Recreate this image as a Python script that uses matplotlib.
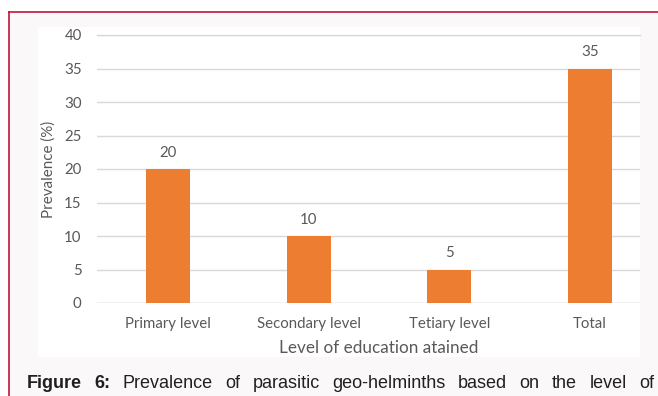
import matplotlib
matplotlib.use("Agg")
import matplotlib.pyplot as plt
from matplotlib.patches import Rectangle
from matplotlib.lines import Line2D

# prevalence by education level
levels = ["Primary level", "Secondary level", "Tetiary level", "Total"]
prevalence = [20, 10, 5, 35]
y_ticks = [0, 5, 10, 15, 20, 25, 30, 35, 40]

caption_bold = ["Figure", "6:"]
caption_words = ["Prevalence", "of", "parasitic", "geo-helminths", "based", "on",
                 "the", "level", "of"]

W, H = 658, 396
bar_color = "#ED7D31"
grid_color = "#D9D9D9"
text_color = "#595959"
frame_color = "#C0143C"

plt.rcParams['font.family'] = ['Lato', 'DejaVu Sans']

fig = plt.figure(figsize=(W / 100, H / 100), dpi=100, facecolor="white")

def fx(px):
    return px / W

def fy(py):
    return 1 - py / H

# page frame: tinted background, red border on top and left
fig.patches.append(Rectangle((fx(9), 0), 1 - fx(9), fy(12), transform=fig.transFigure,
                             facecolor="#FBF8F9", edgecolor="none", zorder=0))
fig.lines.append(Line2D([fx(9), 1], [fy(12), fy(12)], transform=fig.transFigure,
                        color=frame_color, lw=1.2))
fig.lines.append(Line2D([fx(9), fx(9)], [fy(12), 0], transform=fig.transFigure,
                        color=frame_color, lw=1.2))
# white chart panel
fig.patches.append(Rectangle((fx(38), fy(357)), fx(640) - fx(38), fy(27) - fy(357),
                             transform=fig.transFigure, facecolor="white",
                             edgecolor="none", zorder=1))

ax = fig.add_axes([fx(97), fy(303), fx(640) - fx(97), fy(35) - fy(303)])
ax.set_facecolor("none")
ax.set_zorder(5)

x = list(range(len(levels)))
ax.bar(x, prevalence, width=0.313, color=bar_color, zorder=3)
for xi, v in zip(x, prevalence):
    ax.annotate(str(v), (xi, v), xytext=(0, 6.5), textcoords="offset points",
                ha="center", va="bottom", fontsize=10.8, color=text_color)

ax.set_xlim(-0.505, 3.355)
ax.set_ylim(0, 40)
ax.set_yticks(y_ticks)
ax.yaxis.grid(True, color=grid_color, lw=1)
ax.set_axisbelow(True)
for s in ax.spines.values():
    s.set_visible(False)
ax.axhline(0, color=grid_color, lw=1, zorder=2)
ax.axhline(40, color=grid_color, lw=1, zorder=2, clip_on=False)

ax.set_xticks(x)
ax.set_xticklabels(levels)
ax.tick_params(axis="both", length=0, labelsize=10.8, labelcolor=text_color)
ax.tick_params(axis="y", pad=11)
ax.tick_params(axis="x", pad=10)

fig.text(fx(379), fy(348), "Level of education atained", ha="center", va="center",
         fontsize=12.3, color=text_color, zorder=6)
fig.text(fx(49), fy(169), "Prevalence (%)", ha="center", va="center", rotation=90,
         fontsize=10.9, color=text_color, zorder=6)

# justified caption line
renderer = fig.canvas.get_renderer()
words = [(w, "bold") for w in caption_bold] + [(w, "normal") for w in caption_words]
cap_texts = []
total_w = 0
for w, weight in words:
    t = fig.text(0, fy(388), w, fontsize=13, fontweight=weight, va="baseline",
                 ha="left", color="#231F20", family=["Liberation Sans", "DejaVu Sans"])
    total_w += t.get_window_extent(renderer).width
    cap_texts.append(t)
left, right = 27, 654
gap = (right - left - total_w) / (len(cap_texts) - 1)
pos = left
for t in cap_texts:
    t.set_x(fx(pos))
    pos += t.get_window_extent(renderer).width + gap

fig.savefig("out.png", dpi=100, facecolor=fig.get_facecolor())
